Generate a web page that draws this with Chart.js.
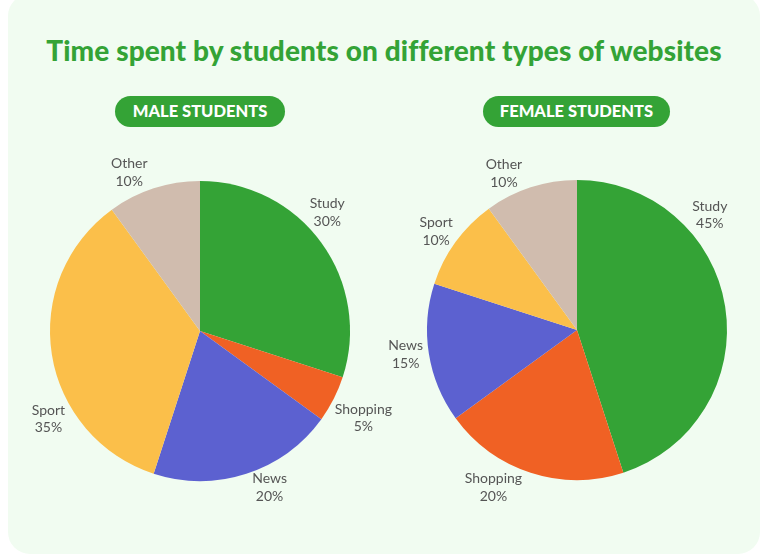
<!DOCTYPE html>
<html>
<head>
<meta charset="utf-8">
<script src="https://cdn.jsdelivr.net/npm/chart.js@4"></script>
<style>
  html, body { margin: 0; padding: 0; background: #ffffff; }
  body { width: 768px; height: 555px; position: relative; overflow: hidden; font-family: Lato, "Noto Sans", sans-serif; }
  .card { position: absolute; left: 8px; top: -6px; width: 752px; height: 560px; background: #f1fcf1; border-radius: 22px; }
  h1 { position: absolute; left: 0; width: 768px; top: 33px; margin: 0; text-align: center; color: #34a336; font-size: 28px; font-weight: 900; letter-spacing: 0.1px; }
  .pill { position: absolute; top: 96px; height: 31px; line-height: 31px; background: #34a336; color: #fff; font-weight: 900; font-size: 16.5px; border-radius: 16px; text-align: center; }
  canvas { position: absolute; }
</style>
</head>
<body>
<div class="card"></div>
<h1>Time spent by students on different types of websites</h1>
<div class="pill" style="left:115px; width:170px;">MALE STUDENTS</div>
<div class="pill" style="left:483px; width:187px;">FEMALE STUDENTS</div>
<div style="position:absolute;left:0px;top:131px;width:400px;height:400px;"><canvas id="malePie"></canvas></div>
<div style="position:absolute;left:377px;top:130px;width:391px;height:400px;"><canvas id="femalePie"></canvas></div>
<script>
const categories = ['Study', 'Shopping', 'News', 'Sport', 'Other'];
const maleValues = [30, 5, 20, 35, 10];
const femaleValues = [45, 20, 15, 10, 10];
const sliceColors = ['#34a336', '#f06124', '#5c61d0', '#fbbf4a', '#d0bcae'];

// label directions (degrees clockwise from top) + gap past the rim, set by hand like the original
const maleLabelAngles = [47, 118, 156, 240, 336];
const maleLabelGaps = [24, 35, 21, 25, 24];
const femaleLabelAngles = [49, 208, 262, 305, 335];
const femaleLabelGaps = [26, 28, 23, 22, 23];

const outsideLabels = {
    id: 'outsideLabels',
    afterDatasetsDraw(chart, args, opts) {
        const ctx = chart.ctx;
        const meta = chart.getDatasetMeta(0);
        const values = chart.data.datasets[0].data;
        ctx.save();
        ctx.font = '14px Lato, "Noto Sans", sans-serif';
        ctx.fillStyle = '#555555';
        ctx.textAlign = 'center';
        ctx.textBaseline = 'middle';
        meta.data.forEach((arc, i) => {
            const a = (opts.angles[i] - 90) * Math.PI / 180;
            const r = arc.outerRadius + opts.gaps[i];
            const x = arc.x + Math.cos(a) * r;
            const y = arc.y + Math.sin(a) * r;
            ctx.fillText(chart.data.labels[i], x, y - 8.5);
            ctx.fillText(values[i] + '%', x, y + 9);
        });
        ctx.restore();
    }
};

function makePie(id, values, angles, gaps, pad) {
    new Chart(document.getElementById(id), {
        type: 'pie',
        data: {
            labels: categories,
            datasets: [{
                data: values,
                backgroundColor: sliceColors,
                borderWidth: 0
            }]
        },
        options: {
            responsive: true,
            maintainAspectRatio: false,
            animation: false,
            layout: { padding: pad },
            plugins: {
                legend: { display: false },
                tooltip: { enabled: false },
                outsideLabels: { angles: angles, gaps: gaps }
            }
        },
        plugins: [outsideLabels]
    });
}

makePie('malePie', maleValues, maleLabelAngles, maleLabelGaps, { left: 50, right: 50, top: 50, bottom: 50 });
makePie('femalePie', femaleValues, femaleLabelAngles, femaleLabelGaps, { left: 50, right: 41, top: 50, bottom: 50 });
</script>
</body>
</html>
